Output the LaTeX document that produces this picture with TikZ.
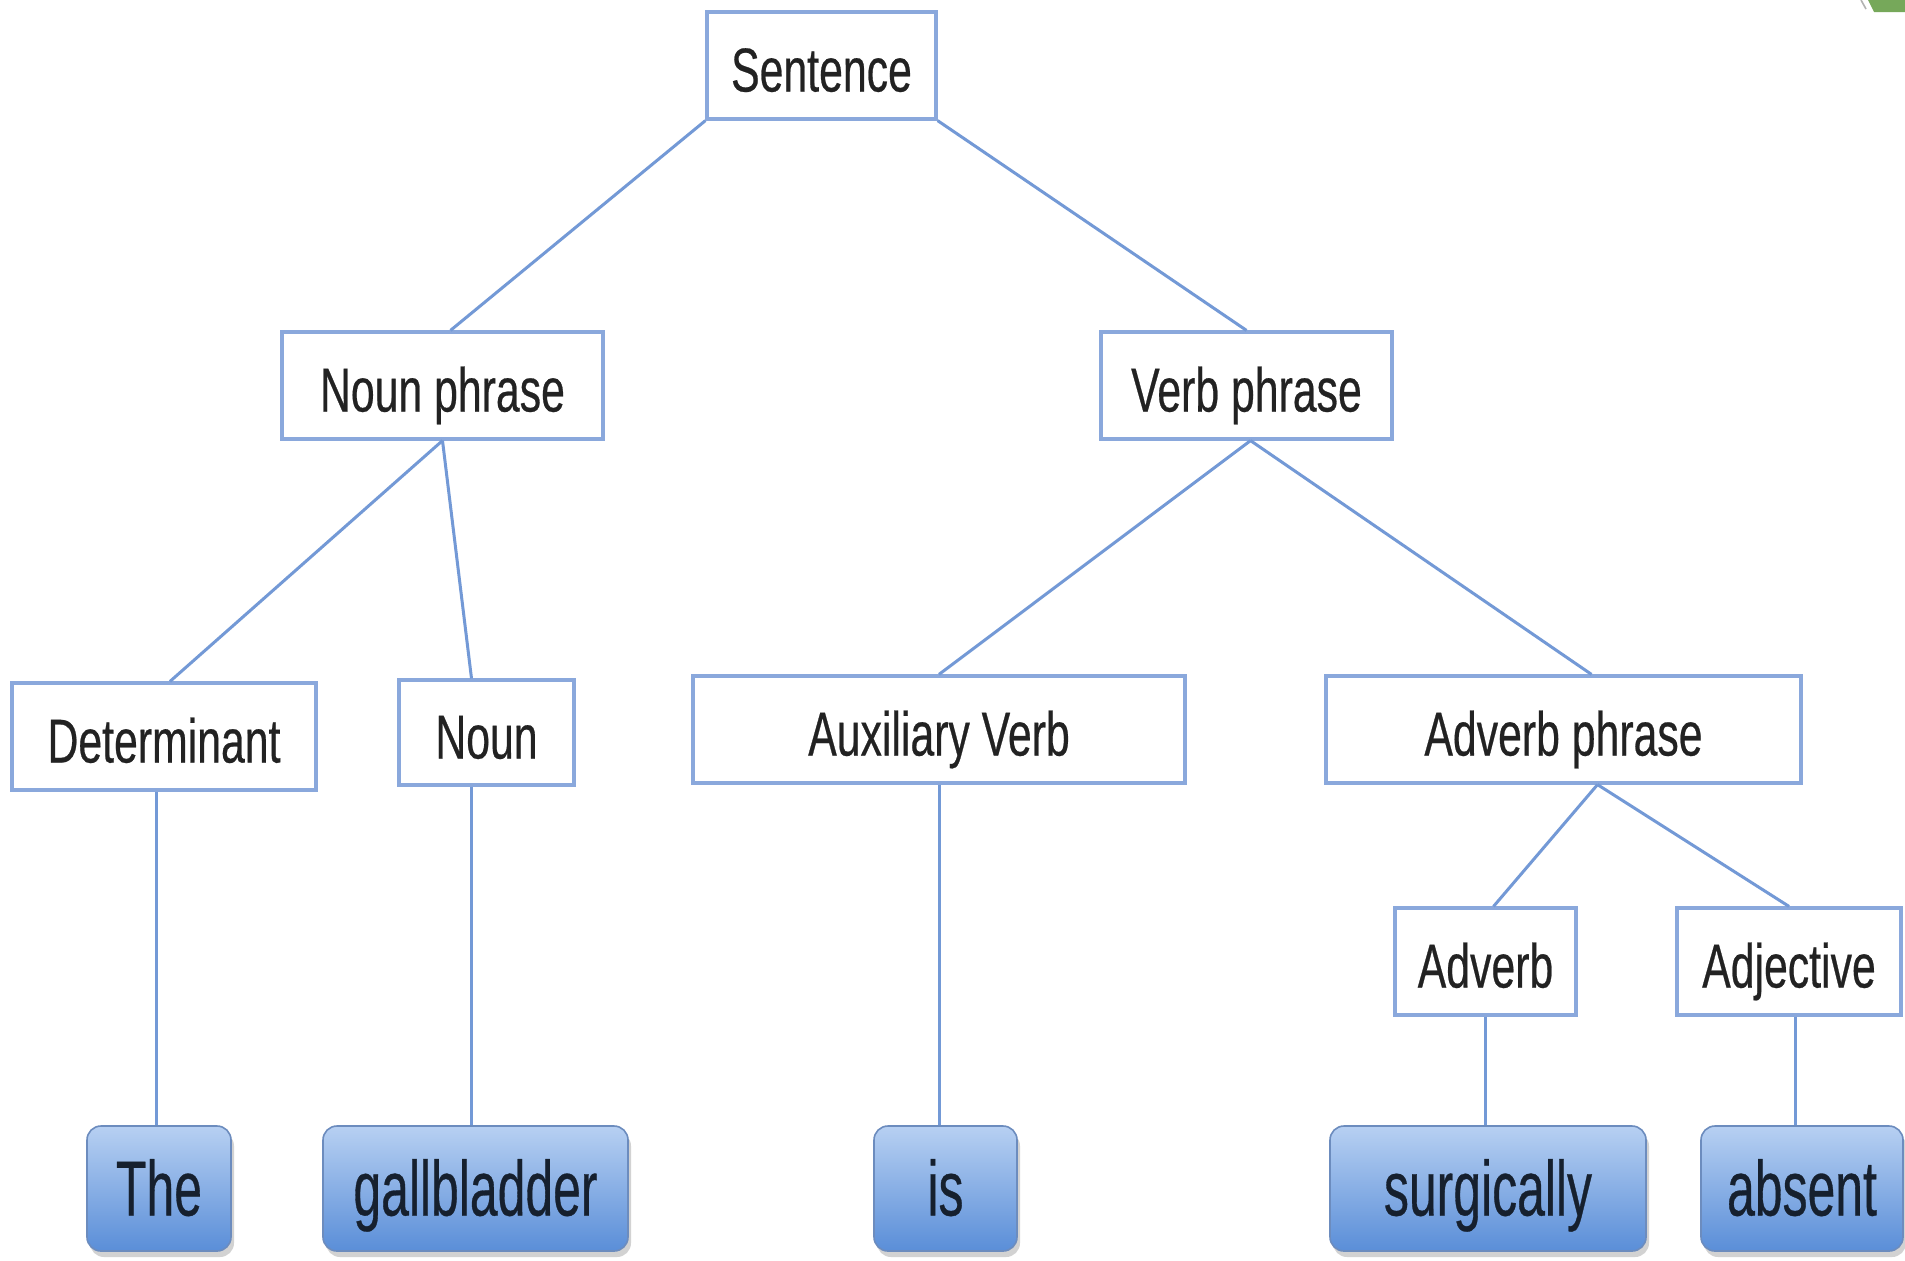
\documentclass[tikz,border=0pt]{standalone}
\usepackage{fontspec}
\setmainfont{Liberation Sans}
\newfontfamily\upperfont{Liberation Sans}[FakeStretch=0.69, FakeBold=0.4]
\newfontfamily\leaffont{Liberation Sans}[FakeStretch=0.64, FakeBold=0.4]
\usetikzlibrary{shadows}
\definecolor{boxline}{HTML}{8AA8DC}
\definecolor{conn}{HTML}{7399D6}
\definecolor{leaftop}{HTML}{B7D0F2}
\definecolor{leafbot}{HTML}{5A8ED8}
\definecolor{leafline}{HTML}{6C8CBE}
\definecolor{leaftext}{HTML}{16202E}
\definecolor{uptext}{HTML}{222222}
\definecolor{cornergreen}{HTML}{76A85A}
\tikzset{
  catbox/.style={draw=boxline, line width=1.6pt, fill=white, inner sep=0pt,
    minimum height=53.5pt, text height=26pt, text depth=0pt,
    font=\upperfont\fontsize{31}{35}\selectfont, text=uptext},
  leafbox/.style={draw=leafline, line width=0.8pt, rounded corners=7pt, inner sep=0pt,
    top color=leaftop, bottom color=leafbot, minimum height=62.5pt,
    text height=27pt, text depth=0pt,
    font=\leaffont\fontsize{39}{44}\selectfont, text=leaftext,
    drop shadow={shadow xshift=1.5pt, shadow yshift=-3pt, opacity=0.35}},
  link/.style={draw=conn, line width=1.5pt}
}
\begin{document}
\begin{tikzpicture}[x=0.5pt, y=-0.5pt]
\useasboundingbox[fill=white] (0,0) rectangle (1905,1260);
% corner artifact
\fill[cornergreen] (1868,0) -- (1905,0) -- (1905,12) -- (1874,12) -- cycle;
\draw[gray!60, line width=0.8pt] (1861,0) -- (1866,9);
% category boxes
\node[catbox, minimum width=114.5pt] (S) at (821.5,65.5) {Sentence};
\node[catbox, minimum width=160.5pt] (NP) at (442.5,385.5) {Noun phrase};
\node[catbox, minimum width=145.5pt] (VP) at (1246.5,385.5) {Verb phrase};
\node[catbox, minimum width=152pt] (Det) at (164,736.5) {Determinant};
\node[catbox, minimum width=87.5pt, minimum height=52.5pt] (N) at (486.5,732.5) {Noun};
\node[catbox, minimum width=246pt] (Aux) at (939,729.5) {Auxiliary Verb};
\node[catbox, minimum width=237.5pt] (AdvP) at (1563.5,729.5) {Adverb phrase};
\node[catbox, minimum width=90.5pt] (Adv) at (1485.5,961.5) {Adverb};
\node[catbox, minimum width=112pt] (Adj) at (1789,961.5) {Adjective};
% leaves
\node[leafbox, minimum width=72pt] (The) at (159,1188.5) {The};
\node[leafbox, minimum width=152.5pt] (Gall) at (475.5,1188.5) {gallbladder};
\node[leafbox, minimum width=71.5pt] (Is) at (945.5,1188.5) {is};
\node[leafbox, minimum width=158pt] (Surg) at (1488,1188.5) {surgically};
\node[leafbox, minimum width=101pt] (Abs) at (1802,1188.5) {absent};
% connectors
\draw[link] (S.south west) -- ([xshift=4pt]NP.north);
\draw[link] (S.south east) -- (VP.north);
\draw[link] (NP.south) -- ([xshift=3pt]Det.north);
\draw[link] (NP.south) -- ([xshift=-7.5pt]N.north);
\draw[link] ([xshift=2pt]VP.south) -- (Aux.north);
\draw[link] ([xshift=2pt]VP.south) -- ([xshift=14pt]AdvP.north);
\draw[link] ([xshift=17pt]AdvP.south) -- ([xshift=4pt]Adv.north);
\draw[link] ([xshift=17pt]AdvP.south) -- (Adj.north);
\draw[link] ([xshift=-4pt]Det.south) -- ([xshift=-4pt]Det.south |- The.north);
\draw[link] ([xshift=-7.5pt]N.south) -- ([xshift=-7.5pt]N.south |- Gall.north);
\draw[link] (Aux.south) -- (Aux.south |- Is.north);
\draw[link] (Adv.south) -- (Adv.south |- Surg.north);
\draw[link] ([xshift=3pt]Adj.south) -- ([xshift=3pt]Adj.south |- Abs.north);
\end{tikzpicture}
\end{document}
